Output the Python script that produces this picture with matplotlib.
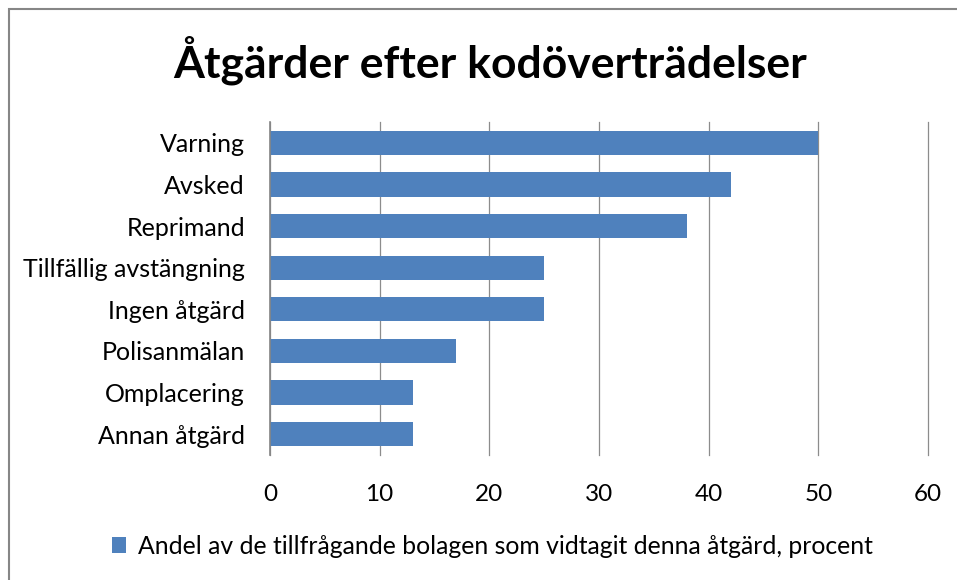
import matplotlib.pyplot as plt
from matplotlib.patches import Rectangle

# data (percent)
categories = ["Varning", "Avsked", "Reprimand", "Tillfällig avstängning",
              "Ingen åtgärd", "Polisanmälan", "Omplacering", "Annan åtgärd"]
values = [50, 42, 38, 25, 25, 17, 13, 13]
xticks = [0, 10, 20, 30, 40, 50, 60]

title = "Åtgärder efter kodöverträdelser"
legend_label = "Andel av de tillfrågande bolagen som vidtagit denna åtgärd, procent"

bar_color = "#4F81BD"
plt.rcParams['font.family'] = ['Lato', 'DejaVu Sans']


def plot_chart():
    fig = plt.figure(figsize=(9.57, 5.80), dpi=100)

    # outer chart border
    border = Rectangle((9 / 957, -0.05), 1.1, 1.05 - 9 / 580,
                       transform=fig.transFigure, facecolor="none",
                       edgecolor="#868686", linewidth=1.5)
    fig.patches.append(border)

    ax = fig.add_axes([270 / 957, 1 - 455 / 580, 658 / 957, 333 / 580])
    ypos = list(range(len(categories)))
    ax.barh(ypos, values, height=0.58, color=bar_color, label=legend_label, zorder=3)

    ax.set_ylim(len(categories) - 0.5, -0.5)
    ax.set_xlim(0, 60)
    ax.set_yticks(ypos)
    ax.set_yticklabels(categories, fontsize=18)
    ax.set_xticks(xticks)
    ax.set_xticklabels([str(t) for t in xticks], fontsize=17.5)
    ax.tick_params(axis='y', length=0, pad=18)
    ax.tick_params(axis='x', length=0, pad=21)

    # vertical gridlines (keep the one at 60 unclipped)
    ax.grid(axis='x', color="#8c8c8c", linewidth=0.9, zorder=0)
    ax.grid(axis='y', visible=False)
    for gl in ax.get_xgridlines():
        gl.set_clip_on(False)
    for side in ['top', 'right', 'bottom']:
        ax.spines[side].set_visible(False)
    ax.spines['left'].set_color("#868686")
    ax.spines['left'].set_linewidth(1.2)
    ax.spines['left'].set_zorder(4)

    fig.text(490 / 957, 1 - 60 / 580, title, fontsize=32, fontweight='bold',
             ha='center', va='center')

    fig.legend(loc='center', bbox_to_anchor=(492 / 957, 1 - 546 / 580),
               frameon=False, fontsize=17.8, handlelength=0.6, handleheight=0.6,
               handletextpad=0.45)

    fig.savefig("out.png", dpi=100)


if __name__ == "__main__":
    plot_chart()
